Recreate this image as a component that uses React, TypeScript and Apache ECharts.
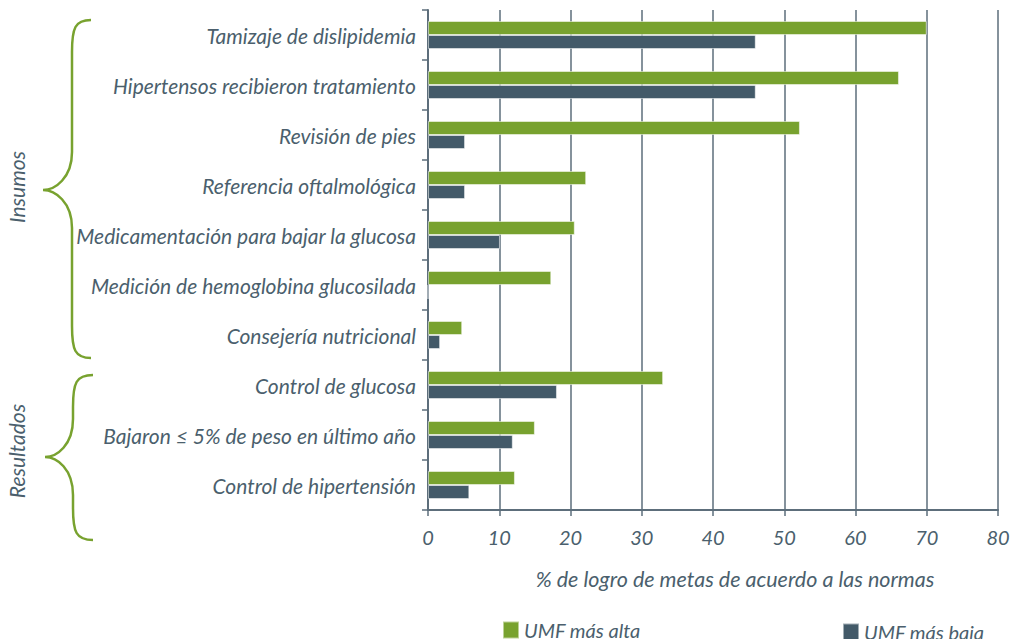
import React, { useEffect, useRef } from "react";
import * as echarts from "echarts";

const categories = [
  "Tamizaje de dislipidemia",
  "Hipertensos recibieron tratamiento",
  "Revisión de pies",
  "Referencia oftalmológica",
  "Medicamentación para bajar la glucosa",
  "Medición de hemoglobina glucosilada",
  "Consejería nutricional",
  "Control de glucosa",
  "Bajaron ≤ 5% de peso en último año",
  "Control de hipertensión",
];
const umfAlta = [70, 66.1, 52.2, 22.2, 20.6, 17.3, 4.8, 33, 15, 12.2];
const umfBaja = [46, 46, 5.2, 5.2, 10.1, 0, 1.7, 18.1, 11.9, 5.8];
const xTicks = { min: 0, max: 80, interval: 10 };
const groupNames = ["Insumos", "Resultados"];
const seriesNames = ["UMF más alta", "UMF más baja"];
const axisName = "% de logro de metas de acuerdo a las normas";

const GREEN = "#78a22f";
const DARK = "#435a69";
const TEXT = "#4b5f6d";
const GRID = "#5d6e7b";
const FONT = "Lato, 'Open Sans', sans-serif";

function bracePath(xe: number, xv: number, xt: number, y0: number, yT: number, y1: number) {
  return [
    `M ${xe} ${y0}`,
    `C ${xv + 3} ${y0} ${xv} ${y0 + 8} ${xv} ${y0 + 32}`,
    `L ${xv} ${yT - 38}`,
    `C ${xv} ${yT - 12} ${xt + 12} ${yT} ${xt} ${yT}`,
    `C ${xt + 12} ${yT} ${xv} ${yT + 12} ${xv} ${yT + 38}`,
    `L ${xv} ${y1 - 32}`,
    `C ${xv} ${y1 - 8} ${xv + 3} ${y1} ${xe} ${y1}`,
  ].join(" ");
}

echarts.graphic.registerShape(
  "braceInsumos",
  (echarts.graphic as any).extendPath(bracePath(91, 72, 43, 20, 190, 358), {})
);
echarts.graphic.registerShape(
  "braceResultados",
  (echarts.graphic as any).extendPath(bracePath(93, 73, 45, 375, 457, 540), {})
);

export default function App() {
  const ref = useRef<HTMLDivElement>(null);
  useEffect(() => {
    if (!ref.current) return;
    const chart = echarts.init(ref.current, null, { renderer: "svg" });
    const braceStyle = { fill: "none", stroke: GREEN, lineWidth: 2.5 };
    const legendText = { color: TEXT, fontSize: 20, fontStyle: "italic", fontFamily: FONT };
    chart.setOption({
      animation: false,
      backgroundColor: "#ffffff",
      textStyle: { fontFamily: FONT },
      grid: { left: 428, right: 20, top: 10, bottom: 129, containLabel: false },
      legend: [
        {
          data: [seriesNames[0]],
          left: 497,
          top: 615,
          itemWidth: 16,
          itemHeight: 17,
          itemGap: 10,
          icon: "rect",
          textStyle: legendText,
        },
        {
          data: [seriesNames[1]],
          left: 837,
          top: 617,
          itemWidth: 16,
          itemHeight: 17,
          icon: "rect",
          textStyle: legendText,
        },
      ],
      xAxis: {
        type: "value",
        min: xTicks.min,
        max: xTicks.max,
        interval: xTicks.interval,
        name: axisName,
        nameLocation: "middle",
        nameGap: 58,
        nameTextStyle: {
          color: TEXT,
          fontSize: 21.5,
          fontStyle: "italic",
          fontFamily: FONT,
          padding: [0, 0, 0, 44],
        },
        axisLine: { show: true, lineStyle: { color: GRID, width: 2 } },
        axisTick: { show: true, length: 6, lineStyle: { color: GRID, width: 1.5 } },
        axisLabel: { color: TEXT, fontSize: 20, fontStyle: "italic", margin: 17, fontFamily: FONT },
        splitLine: { show: true, lineStyle: { color: GRID, width: 1.5 } },
      },
      yAxis: {
        type: "category",
        data: categories,
        inverse: true,
        axisLine: { show: true, lineStyle: { color: GRID, width: 2 } },
        axisTick: { show: true, length: 6, lineStyle: { color: GRID, width: 1.5 } },
        axisLabel: { color: TEXT, fontSize: 21, fontStyle: "italic", margin: 12, fontFamily: FONT },
      },
      series: [
        {
          name: seriesNames[0],
          type: "bar",
          data: umfAlta,
          barWidth: 14,
          barGap: "0%",
          itemStyle: { color: GREEN, borderColor: "rgba(255,255,255,0.5)", borderWidth: 1 },
        },
        {
          name: seriesNames[1],
          type: "bar",
          data: umfBaja,
          barWidth: 14,
          barGap: "0%",
          itemStyle: { color: DARK, borderColor: "rgba(255,255,255,0.5)", borderWidth: 1 },
        },
      ],
      graphic: [
        { type: "braceInsumos", x: 0, y: 0, style: braceStyle, silent: true },
        { type: "braceResultados", x: 0, y: 0, style: braceStyle, silent: true },
        {
          type: "text",
          x: 16,
          y: 187,
          rotation: Math.PI / 2,
          style: {
            text: groupNames[0],
            fill: TEXT,
            fontSize: 21,
            fontStyle: "italic",
            fontFamily: FONT,
            align: "center",
            verticalAlign: "middle",
          },
        },
        {
          type: "text",
          x: 16,
          y: 451,
          rotation: Math.PI / 2,
          style: {
            text: groupNames[1],
            fill: TEXT,
            fontSize: 21,
            fontStyle: "italic",
            fontFamily: FONT,
            align: "center",
            verticalAlign: "middle",
          },
        },
      ],
    });
    return () => chart.dispose();
  }, []);
  return (
    <div
      ref={ref}
      style={{ position: "fixed", left: 0, top: 0, width: 1018, height: 639 }}
    />
  );
}
